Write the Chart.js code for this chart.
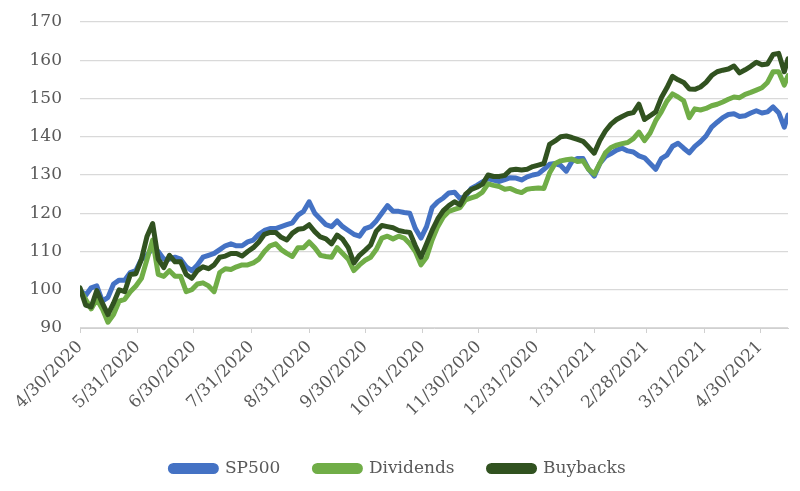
<!DOCTYPE HTML>
<html>
<head>
<script src="https://cdn.jsdelivr.net/npm/chart.js@4.4.1/dist/chart.umd.min.js"></script>
<style>
  html, body { margin: 0; padding: 0; background: #fff; }
  #wrap { width: 800px; height: 491px; }
</style>
</head>
<body>
<div id="wrap"><canvas id="line-chart" width="800" height="491"></canvas></div>
<script>
// days since 4/30/2020
var days = [0,3,6,9,12,15,18,21,24,27,30,33,36,39,42,45,48,51,54,57,
  60,63,66,69,72,75,78,81,84,87,90,93,96,99,102,105,108,111,114,117,
  120,123,126,129,132,135,138,141,144,147,150,153,156,159,162,165,168,171,174,177,
  180,183,186,189,192,195,198,201,204,207,210,213,216,219,222,225,228,231,234,237,
  240,243,246,249,252,255,258,261,264,267,270,273,276,279,282,285,288,291,294,297,
  300,303,306,309,312,315,318,321,324,327,330,333,336,339,342,345,348,351,354,357,
  360,363,366,369,372,375,378,380];

var sp500 = [100,98.5,100.5,101,97,98,101.5,102.5,102.5,104.5,
  105,108,109,111,110,108,108,108.5,108,106,
  105,106.5,108.5,109,109.5,110.5,111.5,112,111.5,111.5,
  112.5,113,114.5,115.5,116,116,116.5,117,117.5,119.5,
  120.5,123,120,118.5,117,116.5,118,116.5,115.5,114.5,
  114,116,116.5,118,120,122,120.5,120.5,120.2,120,
  116,113.5,116.5,121.5,123,124,125.3,125.5,123.8,124.5,
  126.5,127.3,128.2,129,128.7,128.3,128.8,129.3,129.2,128.7,
  129.5,130,130.3,131.5,132.8,133,132.5,131,133.5,134.3,
  134.3,131.5,129.7,133,134.8,135.6,136.5,137,136.3,136,
  135,134.5,133,131.5,134.3,135.2,137.5,138.3,137,135.8,
  137.5,138.7,140.2,142.5,143.8,145,145.8,146,145.3,145.5,
  146.2,146.8,146.2,146.5,147.8,146.3,142.5,145.7];

var dividends = [100,97.5,95,97.5,95,91.5,93.5,97,97.5,99.5,
  101,103,108,113,104,103.5,105,103.5,103.5,99.5,
  100,101.5,101.8,101,99.5,104.5,105.5,105.3,106,106.5,
  106.5,107,108,110,111.5,112,110.5,109.5,108.7,111,
  111,112.5,111,109,108.7,108.5,111,109.5,108,105,
  106.5,107.7,108.5,110.5,113.5,114,113.3,114,113.5,112,
  110,106.5,108.5,113,116.5,119,120.5,121,121.5,123.5,
  124,124.5,125.5,127.7,127.3,127,126.3,126.5,125.8,125.4,
  126.3,126.5,126.6,126.5,130.5,133,133.7,134,134.2,133.5,
  133.7,131.5,130.2,133,135.8,137.2,137.8,138.2,138.5,139.5,
  141.2,139,141,144.2,146.5,149.3,151.2,150.4,149.4,145,
  147.3,147,147.4,148.1,148.5,149.1,149.8,150.4,150.2,151.1,
  151.6,152.2,152.8,154.2,157,157,153.5,156];

var buybacks = [100.5,96,95.5,99.8,96.5,93.5,96.5,100,99.5,104,
  104.2,108,114,117.3,108,105.8,109,107.3,107.3,104,
  103,105,106,105.5,106.5,108.5,108.8,109.5,109.5,108.8,
  110,111,112.5,114.5,115,115,113.7,113,114.8,115.8,
  116,117,115.2,113.8,113.3,112,114.3,113.2,111,107,
  109,110.3,111.7,115.3,116.8,116.5,116.2,115.5,115.2,115,
  111.5,108.5,112,115.5,118.5,120.7,122,123,122.2,125,
  126.2,126.8,127.6,130,129.6,129.6,129.9,131.3,131.5,131.3,
  131.5,132.2,132.6,133,138,138.9,140,140.2,139.8,139.3,
  138.8,137.3,135.7,139,141.5,143.3,144.5,145.3,146,146.3,
  148.5,144.5,145.5,146.5,150.2,152.8,155.8,154.9,154.2,152.5,
  152.4,153,154.2,156,157,157.4,157.7,158.5,156.7,157.5,
  158.4,159.5,158.8,159,161.5,161.8,157,160.4];

var tickDays = [0,31,61,92,123,153,184,214,245,276,304,335,365];
var tickLabels = ['4/30/2020','5/31/2020','6/30/2020','7/31/2020','8/31/2020','9/30/2020',
  '10/31/2020','11/30/2020','12/31/2020','1/31/2021','2/28/2021','3/31/2021','4/30/2021'];

function pts(vals) {
  return vals.map(function (v, i) { return { x: days[i], y: v }; });
}

var font = { family: "'DejaVu Serif', Georgia, serif", size: 17 };
var textColor = '#595959';

new Chart(document.getElementById('line-chart'), {
  type: 'line',
  data: {
    datasets: [
      { label: 'SP500', data: pts(sp500), borderColor: '#4472C4', backgroundColor: '#4472C4', order: 3 },
      { label: 'Dividends', data: pts(dividends), borderColor: '#70AD47', backgroundColor: '#70AD47', order: 2 },
      { label: 'Buybacks', data: pts(buybacks), borderColor: '#315220', backgroundColor: '#315220', order: 1 }
    ]
  },
  options: {
    responsive: false,
    animation: false,
    layout: { padding: { left: 8, right: 12, top: 22, bottom: 4 } },
    elements: {
      point: { radius: 0 },
      line: { borderWidth: 5, tension: 0, borderJoinStyle: 'round', borderCapStyle: 'round', fill: false }
    },
    plugins: {
      tooltip: { enabled: false },
      legend: {
        position: 'bottom',
        labels: {
          font: font,
          color: textColor,
          boxWidth: 46,
          boxHeight: 6,
          useBorderRadius: true,
          borderRadius: 3,
          padding: 34,
          sort: function (a, b) { return a.datasetIndex - b.datasetIndex; }
        }
      }
    },
    scales: {
      x: {
        type: 'linear',
        min: 0,
        max: 380,
        afterBuildTicks: function (s) {
          s.ticks = tickDays.map(function (d) { return { value: d }; });
        },
        afterFit: function (s) { s.height = 98; },
        ticks: {
          autoSkip: false,
          maxRotation: 45,
          minRotation: 45,
          padding: 4,
          font: font,
          color: textColor,
          callback: function (v) {
            var i = tickDays.indexOf(v);
            return i >= 0 ? tickLabels[i] : '';
          }
        },
        grid: { drawOnChartArea: false, drawTicks: true, tickLength: 5, color: '#d0d0d0' },
        border: { display: true, color: '#d0d0d0', width: 1 }
      },
      y: {
        min: 90,
        max: 170,
        afterFit: function (s) {
          s.width = 72;
          s.paddingTop = 0;
          s.paddingBottom = 0;
        },
        ticks: { stepSize: 10, padding: 18, font: font, color: textColor },
        grid: { color: '#d9d9d9', lineWidth: 1.3, drawTicks: false },
        border: { display: false }
      }
    }
  }
});
</script>
</body>
</html>
